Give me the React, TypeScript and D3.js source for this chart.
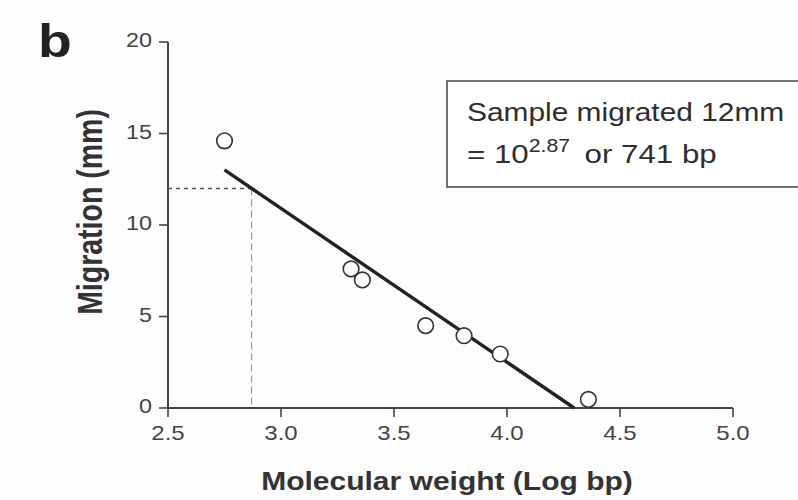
import React from "react";
import * as d3 from "d3";

// Marker band standards: log10(bp) vs. migration distance (mm)
const logBp = [2.75, 3.31, 3.36, 3.64, 3.81, 3.97, 4.36];
const migrationMm = [14.6, 7.6, 7.0, 4.5, 3.95, 2.95, 0.47];

// Standard curve (least-squares line) and the unknown sample read from it
const fitSlope = -8.41;
const fitIntercept = 36.14;
const fitStartX = 2.75;
const sampleMm = 12;
const sampleLog = 2.87;
const sampleBp = 741;

const xTicks = [2.5, 3.0, 3.5, 4.0, 4.5, 5.0];
const yTicks = [0, 5, 10, 15, 20];

const FONT = "'Liberation Sans', Arial, Helvetica, sans-serif";
const SX = 1.2; // horizontal stretch applied to lettering
const INK = "#2e2e2e";
const AXIS = "#444";

export default function App() {
  const W = 798;
  const H = 500;
  const x = d3.scaleLinear().domain([2.5, 5.0]).range([168, 733]);
  const y = d3.scaleLinear().domain([0, 20]).range([408, 42]);

  const fitY = (v: number) => fitIntercept + fitSlope * v;
  const fitEndX = -fitIntercept / fitSlope;
  const fitLine = d3.line<number>().x((v) => x(v)).y((v) => y(fitY(v)));

  const stretched = (cx: number, cy: number, sx = SX) =>
    `translate(${cx},${cy}) scale(${sx},1)`;

  return (
    <div style={{ position: "fixed", left: 0, top: 0, width: W, height: H, background: "#fff" }}>
      <svg width={W} height={H} style={{ display: "block" }} fontFamily={FONT}>
        <rect width={W} height={H} fill="#fdfdfd" />

        {/* panel letter */}
        <text transform={stretched(38, 57)} fontSize={46} fontWeight="bold" fill="#222">
          b
        </text>

        {/* y axis */}
        <line x1={x(2.5)} x2={x(2.5)} y1={y(20)} y2={y(0)} stroke={AXIS} strokeWidth={2} />
        {yTicks.map((t) => (
          <g key={`y${t}`}>
            <line x1={x(2.5) - 9} x2={x(2.5)} y1={y(t)} y2={y(t)} stroke={AXIS} strokeWidth={1.6} />
            <text
              transform={stretched(152, y(t) + 5)}
              textAnchor="end"
              fontSize={19.5}
              fill="#444"
            >
              {t}
            </text>
          </g>
        ))}

        {/* x axis */}
        <line x1={x(2.5)} x2={x(5.0)} y1={y(0)} y2={y(0)} stroke={AXIS} strokeWidth={2} />
        {xTicks.map((t) => (
          <g key={`x${t}`}>
            <line x1={x(t)} x2={x(t)} y1={y(0)} y2={y(0) + 9} stroke={AXIS} strokeWidth={1.6} />
            <text
              transform={stretched(x(t), 440)}
              textAnchor="middle"
              fontSize={20}
              fill="#444"
            >
              {t.toFixed(1)}
            </text>
          </g>
        ))}

        {/* axis titles */}
        <text
          transform={stretched(447, 490)}
          textAnchor="middle"
          fontSize={25}
          fontWeight="bold"
          fill="#333"
        >
          Molecular weight (Log bp)
        </text>
        <text
          transform={`translate(102,212) scale(${SX},1) rotate(-90)`}
          textAnchor="middle"
          fontSize={28.5}
          fontWeight="bold"
          fill="#333"
        >
          Migration (mm)
        </text>

        {/* read-off of the unknown sample */}
        <line
          x1={x(2.5)}
          x2={x(sampleLog)}
          y1={y(sampleMm)}
          y2={y(sampleMm)}
          stroke="#555"
          strokeWidth={1.5}
          strokeDasharray="4 4"
        />
        <line
          x1={x(sampleLog)}
          x2={x(sampleLog)}
          y1={y(sampleMm)}
          y2={y(0)}
          stroke="#888"
          strokeWidth={1}
          strokeDasharray="7 4"
        />

        {/* standard curve */}
        <path
          d={fitLine([fitStartX, fitEndX]) ?? ""}
          fill="none"
          stroke="#222"
          strokeWidth={3.4}
        />

        {/* marker points */}
        {logBp.map((v, i) => (
          <circle
            key={i}
            cx={x(v)}
            cy={y(migrationMm[i])}
            r={7.8}
            fill="#fff"
            stroke="#333"
            strokeWidth={1.6}
          />
        ))}

        {/* annotation box */}
        <rect x={447} y={81} width={380} height={106} fill="#fff" stroke="#444" strokeWidth={1.5} />
        <text transform={stretched(467, 121, 1.15)} fontSize={26} fill={INK}>
          Sample migrated {sampleMm}mm
        </text>
        <text transform={stretched(467, 163, 1.18)} fontSize={26.5} fill={INK}>
          {"= 10"}
          <tspan dy={-11} fontSize={18}>
            {sampleLog.toFixed(2)}
          </tspan>
          <tspan dy={11} dx={5}>{` or ${sampleBp} bp`}</tspan>
        </text>
      </svg>
    </div>
  );
}
